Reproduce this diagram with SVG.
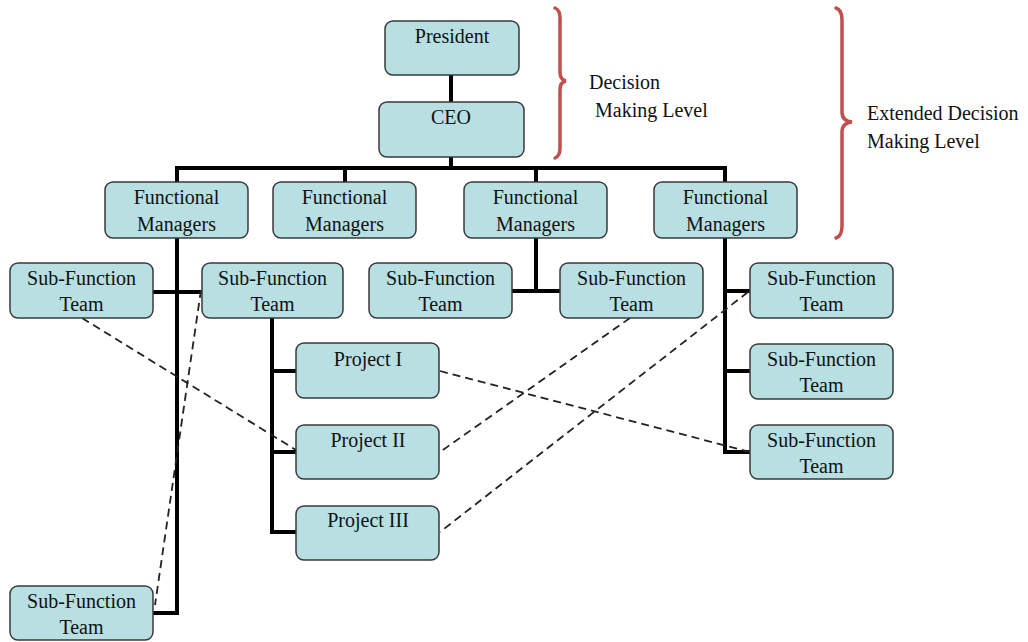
<svg xmlns="http://www.w3.org/2000/svg" width="1028" height="642" viewBox="0 0 1028 642">
<style>
.box{fill:#b8dfe2;stroke:#3a3a3a;stroke-width:1.5}
.t{font-family:"Liberation Serif","Times New Roman",serif;font-size:20px;fill:#111;text-anchor:middle}
.lbl{font-family:"Liberation Serif","Times New Roman",serif;font-size:20px;fill:#111}
.solid{fill:none;stroke:#000;stroke-width:4}
.dash{fill:none;stroke:#222;stroke-width:1.8;stroke-dasharray:8 5}
.brace{fill:none;stroke:#c0504d;stroke-width:3.5;stroke-linecap:round}
</style>
<rect width="1028" height="642" fill="#fff"/>
<g id="connectors">
<path class="solid" d="M451,75 V102 M451,157 V168 M177,168 H727 M177,166 V238 M345,166 V183 M536,166 V183 M725,166 V183"/>
<path class="solid" d="M177,238 V615 M153,613 H179 M153,292 H202"/>
<path class="solid" d="M272,318 V534 M272,371 H296 M272,452 H296 M272,532 H296"/>
<path class="solid" d="M536,237 V293 M512,291 H560"/>
<path class="solid" d="M725,237 V454 M725,291 H750 M725,371 H750 M725,452 H750"/>
<path class="dash" d="M82,318 L296,450"/>
<path class="dash" d="M201,290 L155,605"/>
<path class="dash" d="M630,318 L440,452"/>
<path class="dash" d="M748,292 L440,532"/>
<path class="dash" d="M440,371 L750,452"/>
</g>
<g id="brace1"><path class="brace" d="M555,8 Q560,10 560,18 L560,72 Q560,80 566,81 Q560,82 560,90 L560,148 Q560,156 555,158"/></g>
<g id="brace2"><path class="brace" d="M836,8 Q842,10 842,20 L842,112 Q842,121 852,122 Q842,123 842,132 L842,226 Q842,236 836,238"/></g>
<g id="label-decision"><text class="lbl" x="589" y="89">Decision</text><text class="lbl" x="595" y="117">Making Level</text></g>
<g id="label-extended"><text class="lbl" x="867" y="120">Extended Decision</text><text class="lbl" x="867" y="148">Making Level</text></g>
<g id="president"><rect class="box" x="385" y="21" width="134" height="54" rx="8"/><text class="t" x="452" y="43">President</text></g>
<g id="ceo"><rect class="box" x="379" y="102" width="145" height="55" rx="8"/><text class="t" x="451" y="124">CEO</text></g>
<g id="fm1"><rect class="box" x="105" y="182" width="143" height="56" rx="8"/><text class="t" x="176.5" y="204">Functional</text><text class="t" x="176.5" y="231">Managers</text></g>
<g id="fm2"><rect class="box" x="273" y="182" width="143" height="56" rx="8"/><text class="t" x="344.5" y="204">Functional</text><text class="t" x="344.5" y="231">Managers</text></g>
<g id="fm3"><rect class="box" x="464" y="182" width="143" height="56" rx="8"/><text class="t" x="535.5" y="204">Functional</text><text class="t" x="535.5" y="231">Managers</text></g>
<g id="fm4"><rect class="box" x="654" y="182" width="143" height="56" rx="8"/><text class="t" x="725.5" y="204">Functional</text><text class="t" x="725.5" y="231">Managers</text></g>
<g id="sf-a"><rect class="box" x="10" y="263" width="143" height="55" rx="8"/><text class="t" x="81.5" y="285">Sub-Function</text><text class="t" x="81.5" y="311">Team</text></g>
<g id="sf-b"><rect class="box" x="202" y="263" width="141" height="55" rx="8"/><text class="t" x="272.5" y="285">Sub-Function</text><text class="t" x="272.5" y="311">Team</text></g>
<g id="sf-c"><rect class="box" x="369" y="263" width="143" height="55" rx="8"/><text class="t" x="440.5" y="285">Sub-Function</text><text class="t" x="440.5" y="311">Team</text></g>
<g id="sf-d"><rect class="box" x="560" y="263" width="143" height="55" rx="8"/><text class="t" x="631.5" y="285">Sub-Function</text><text class="t" x="631.5" y="311">Team</text></g>
<g id="sf-e"><rect class="box" x="750" y="263" width="143" height="55" rx="8"/><text class="t" x="821.5" y="285">Sub-Function</text><text class="t" x="821.5" y="311">Team</text></g>
<g id="sf-f"><rect class="box" x="750" y="344" width="143" height="55" rx="8"/><text class="t" x="821.5" y="366">Sub-Function</text><text class="t" x="821.5" y="392">Team</text></g>
<g id="sf-g"><rect class="box" x="750" y="425" width="143" height="54" rx="8"/><text class="t" x="821.5" y="447">Sub-Function</text><text class="t" x="821.5" y="473">Team</text></g>
<g id="project1"><rect class="box" x="296" y="343" width="143" height="55" rx="8"/><text class="t" x="368" y="366">Project I</text></g>
<g id="project2"><rect class="box" x="296" y="425" width="143" height="54" rx="8"/><text class="t" x="368" y="447">Project II</text></g>
<g id="project3"><rect class="box" x="296" y="506" width="143" height="54" rx="8"/><text class="t" x="368" y="527">Project III</text></g>
<g id="sf-bottom"><rect class="box" x="10" y="586" width="143" height="54" rx="8"/><text class="t" x="81.5" y="608">Sub-Function</text><text class="t" x="81.5" y="634">Team</text></g>
</svg>
